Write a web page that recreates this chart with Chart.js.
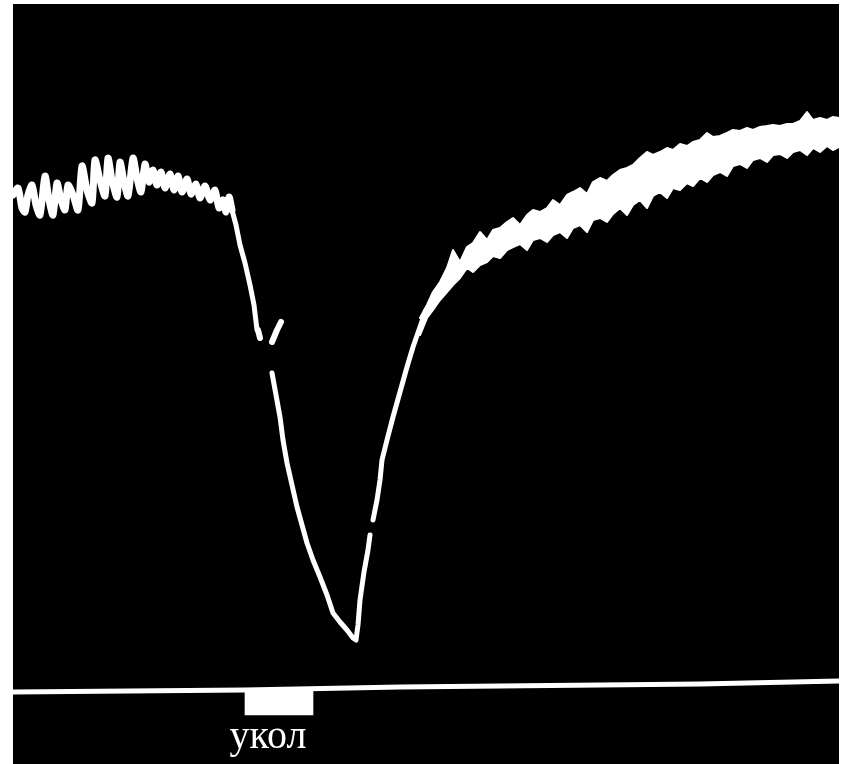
<!DOCTYPE html>
<html lang="ru">
<head>
  <meta charset="UTF-8">
  <title>укол</title>
  <script src="https://cdn.jsdelivr.net/npm/chart.js"></script>
  <style>
    html, body { margin: 0; padding: 0; background: #fff; }
    canvas { display: block; }
  </style>
</head>
<body>
  <canvas id="trace" width="844" height="764"></canvas>

  <script>
    // resting trace with ripple (time, level read from the record)
    var restT = [13, 18, 22, 25, 28, 32, 36, 40, 45, 49, 53, 57, 61, 65, 68, 73, 78, 82, 87, 92,
                 95, 100, 105, 108, 112, 117, 120, 124, 128, 133, 137, 141, 145, 149, 153, 157, 161, 165, 170, 174,
                 178, 182, 187, 191, 196, 200, 205, 210, 215, 219, 223, 226, 229, 232];
    var restV = [195, 188, 208, 212, 195, 185, 205, 215, 176, 200, 215, 183, 200, 210, 185, 195, 210, 166, 190, 203,
                 160, 180, 196, 158, 180, 197, 162, 182, 196, 158, 178, 192, 164, 182, 170, 185, 172, 188, 174, 190,
                 176, 192, 179, 194, 184, 198, 186, 200, 190, 208, 200, 212, 197, 210];

    // fall and rise of the response
    var dropT = [232, 236, 240, 245, 250, 254, 257,
                 265,
                 272, 276, 280, 283, 287, 292, 297, 302, 307, 313, 320, 327, 333, 340, 347, 353, 356, 358, 360, 364,
                 368, 370, 371, 373, 377, 380, 382, 387, 393, 400, 407, 413, 420, 426];
    var dropV = [210, 225, 245, 263, 285, 305, 330,
                 null,
                 373, 395, 417, 440, 463, 485, 507, 525, 543, 560, 577, 595, 613, 622, 630, 638, 640, 625, 600, 572,
                 550, 535, null, 520, 500, 480, 460, 440, 417, 392, 367, 347, 327, 310];

    // broken fragment near the break of the falling edge
    var fragT = [258, 260, null, 272, 277, 281];
    var fragV = [330, 338, null, 342, 330, 322];

    // recovery: noisy band, upper and lower edges
    var bandT = [420, 427, 433, 440, 447, 453, 460, 467, 473, 480, 487, 493, 500, 507, 513, 520, 527, 533, 540, 547,
                 553, 560, 567, 573, 580, 587, 593, 600, 607, 613, 620, 627, 633, 640, 647, 653, 660, 667, 673, 680,
                 687, 693, 700, 707, 713, 720, 727, 733, 740, 747, 753, 760, 767, 773, 780, 787, 793, 800, 807, 813,
                 820, 827, 833, 839];
    var bandTop = [318, 305, 292, 282, 268, 250, 262, 247, 243, 232, 240, 230, 228, 222, 218, 225, 215, 210, 212, 208,
                   200, 205, 195, 192, 188, 194, 182, 178, 181, 175, 170, 168, 165, 158, 152, 155, 152, 148, 150, 144,
                   146, 142, 140, 133, 137, 136, 133, 130, 131, 128, 130, 127, 126, 125, 126, 124, 124, 121, 112, 120,
                   118, 120, 117, 118];
    var bandBottom = [335, 318, 310, 300, 292, 285, 278, 268, 272, 265, 262, 256, 258, 250, 247, 244, 250, 240, 238, 242,
                      235, 232, 238, 228, 225, 232, 220, 218, 222, 214, 208, 215, 205, 200, 208, 196, 192, 198, 188, 190,
                      183, 186, 178, 182, 175, 172, 176, 166, 164, 168, 160, 158, 162, 155, 154, 158, 152, 150, 155, 148,
                      152, 146, 150, 147];

    // stimulus marker line and the prick mark
    var markT = [13, 245, 400, 700, 839];
    var markV = [692, 690, 687, 684, 681];
    var prickFrom = 245, prickTo = 313;
    var prickLevel = [690, 715];
    var prickLabel = 'укол';

    function pts(xs, ys) {
      return xs.map(function(x, i) { return { x: x, y: ys[i] }; });
    }

    function line(label, xs, ys, width) {
      return {
        label: label,
        data: pts(xs, ys),
        borderColor: '#fff',
        borderWidth: width,
        borderJoinStyle: 'round',
        borderCapStyle: 'round',
        pointRadius: 0,
        tension: 0,
        spanGaps: false,
        fill: false
      };
    }

    var blackArea = {
      id: 'blackArea',
      beforeDraw: function(chart) {
        var a = chart.chartArea, c = chart.ctx;
        c.save();
        c.fillStyle = '#000';
        c.fillRect(a.left, a.top, a.right - a.left, a.bottom - a.top);
        c.restore();
      },
      afterDraw: function(chart) {
        var c = chart.ctx;
        var xs = chart.scales.x, ys = chart.scales.y;
        c.save();
        c.fillStyle = '#fff';
        c.font = '40px "Liberation Serif", "Times New Roman", serif';
        c.textAlign = 'center';
        c.textBaseline = 'alphabetic';
        c.fillText(prickLabel, xs.getPixelForValue((prickFrom + prickTo) / 2) - 11, ys.getPixelForValue(748));
        c.restore();
      }
    };

    var restSet = line('rest', restT, restV, 7);
    restSet.tension = 0.25;

    var bandBottomSet = line('band bottom', bandT, bandBottom, 2);
    bandBottomSet.backgroundColor = '#fff';
    bandBottomSet.fill = '-1';

    var ctx = document.getElementById('trace').getContext('2d');
    var chart = new Chart(ctx, {
      type: 'line',
      data: {
        datasets: [
          restSet,
          line('response', dropT, dropV, 5),
          line('fragment', fragT, fragV, 6),
          line('band top', bandT, bandTop, 2),
          bandBottomSet,
          line('marker', markT, markV, 5),
          {
            type: 'bar',
            label: 'prick',
            data: [{ x: (prickFrom + prickTo) / 2, y: prickLevel }],
            backgroundColor: '#fff',
            barThickness: prickTo - prickFrom,
            borderWidth: 0
          }
        ]
      },
      options: {
        responsive: false,
        animation: false,
        layout: { padding: { left: 13, right: 5, top: 4, bottom: 0 } },
        plugins: { legend: { display: false }, tooltip: { enabled: false } },
        scales: {
          x: { type: 'linear', min: 13, max: 839, offset: false, display: false },
          y: { min: 4, max: 764, reverse: true, display: false }
        }
      },
      plugins: [blackArea]
    });
  </script>
</body>
</html>
